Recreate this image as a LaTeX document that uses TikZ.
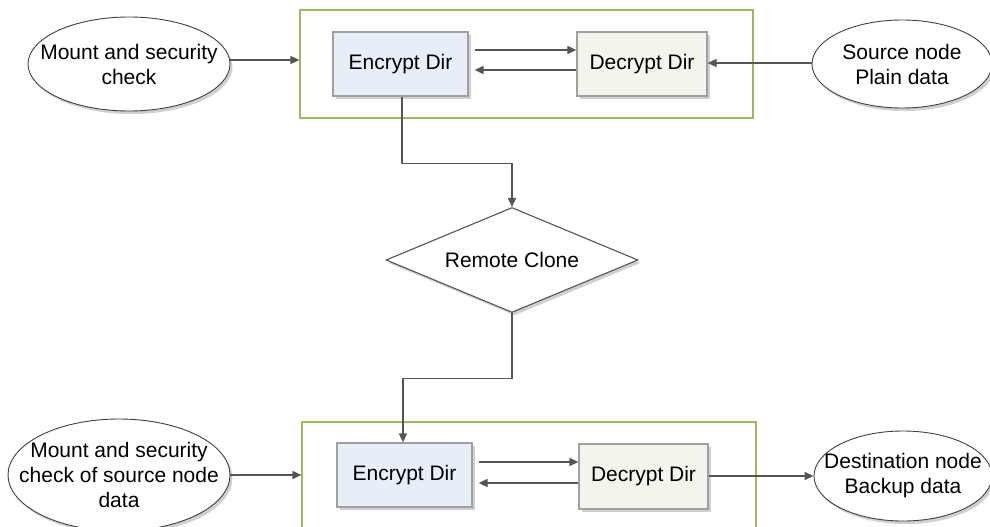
\documentclass[tikz,border=0pt]{standalone}
\usepackage{fontspec}
\setmainfont{Liberation Sans}
\usetikzlibrary{shapes.geometric,shadows,arrows.meta}

\definecolor{linegray}{HTML}{555555}
\definecolor{boxgray}{HTML}{A0A0A0}
\definecolor{framegreen}{HTML}{9BBB59}
\definecolor{encfill}{HTML}{E8EEF7}
\definecolor{decfill}{HTML}{F2F5EB}

\tikzset{
  softshadow/.style={drop shadow={shadow xshift=2.5pt, shadow yshift=-3pt, opacity=0.3, fill=black!60}},
  frame/.style={draw=framegreen, line width=1.2pt, rectangle, inner sep=0pt},
  dirbox/.style={draw=boxgray, line width=1.2pt, rectangle, inner sep=0pt, softshadow},
  oval/.style={draw=black!75, line width=0.9pt, ellipse, fill=white, inner sep=0pt, softshadow},
  decision/.style={draw=linegray, line width=1.1pt, diamond, fill=white, inner sep=0pt, softshadow},
  txt/.style={align=center, inner sep=0pt, font=\fontsize{21}{25}\selectfont},
  arr/.style={draw=linegray, line width=1.6pt, -{Triangle[length=9pt,width=8pt]}},
}

\begin{document}
\begin{tikzpicture}[x=1pt, y=-1pt]
\clip (0,0) rectangle (990,527);
\fill[white] (0,0) rectangle (990,527);

% upper group: source side
\node[frame, minimum width=453pt, minimum height=108pt] (frameT) at (526.5,64) {};
\node[dirbox, fill=encfill, minimum width=135pt, minimum height=64pt] (encT) at (400.5,64) {};
\node[txt] at (encT) {Encrypt Dir};
\node[dirbox, fill=decfill, minimum width=130pt, minimum height=64pt] (decT) at (642,64) {};
\node[txt] at (decT) {Decrypt Dir};

\node[oval, minimum width=202pt, minimum height=94pt] (mountT) at (129,64) {};
\node[txt] at (mountT) {Mount and security\\check};
\node[oval, minimum width=180pt, minimum height=88pt] (srcT) at (902,64) {};
\node[txt] at (srcT) {Source node\\Plain data};

% remote clone decision
\node[decision, minimum width=252pt, minimum height=105pt] (clone) at (512,260) {};
\node[txt] at (clone) {Remote Clone};

% lower group: destination side
\node[frame, minimum width=454pt, minimum height=123pt] (frameB) at (529,483.5) {};
\node[dirbox, fill=encfill, minimum width=135pt, minimum height=64pt] (encB) at (404.5,475) {};
\node[txt] at (encB) {Encrypt Dir};
\node[dirbox, fill=decfill, minimum width=129pt, minimum height=65pt] (decB) at (643.5,476.5) {};
\node[txt] at (decB) {Decrypt Dir};

\node[oval, minimum width=222pt, minimum height=112pt] (mountB) at (119,475) {};
\node[txt] at (mountB) {Mount and security\\check of source node\\data};
\node[oval, minimum width=178pt, minimum height=90pt] (dstB) at (903,476) {};
\node[txt] at (dstB) {Destination node\\Backup data};

% helper rows for the paired arrows
\coordinate (rowTa) at (0,50);
\coordinate (rowTb) at (0,70);
\coordinate (rowBa) at (0,462);
\coordinate (rowBb) at (0,483);

% connectors, upper group
\draw[arr] ([yshift=4pt]mountT.east) -- ([yshift=4pt]mountT.east -| frameT.west);
\draw[arr] ([xshift=6pt]encT.east |- rowTa) -- (decT.west |- rowTa);
\draw[arr] (decT.west |- rowTb) -- ([xshift=6pt]encT.east |- rowTb);
\draw[arr] ([yshift=1pt]srcT.west) -- ([yshift=1pt]srcT.west -| decT.east);

% path through the remote clone
\draw[arr] ([xshift=1.5pt]encT.south) -- ++(0,67) -| (clone.north);
\draw[arr] (clone.south) -- ++(0,65.5) -| ([xshift=-1.5pt]encB.north);

% connectors, lower group
\draw[arr] (mountB.east) -- (mountB.east -| frameB.west);
\draw[arr] ([xshift=6pt]encB.east |- rowBa) -- (decB.west |- rowBa);
\draw[arr] (decB.west |- rowBb) -- ([xshift=6pt]encB.east |- rowBb);
\draw[arr] (decB.east |- dstB.west) -- (dstB.west);
\end{tikzpicture}
\end{document}
